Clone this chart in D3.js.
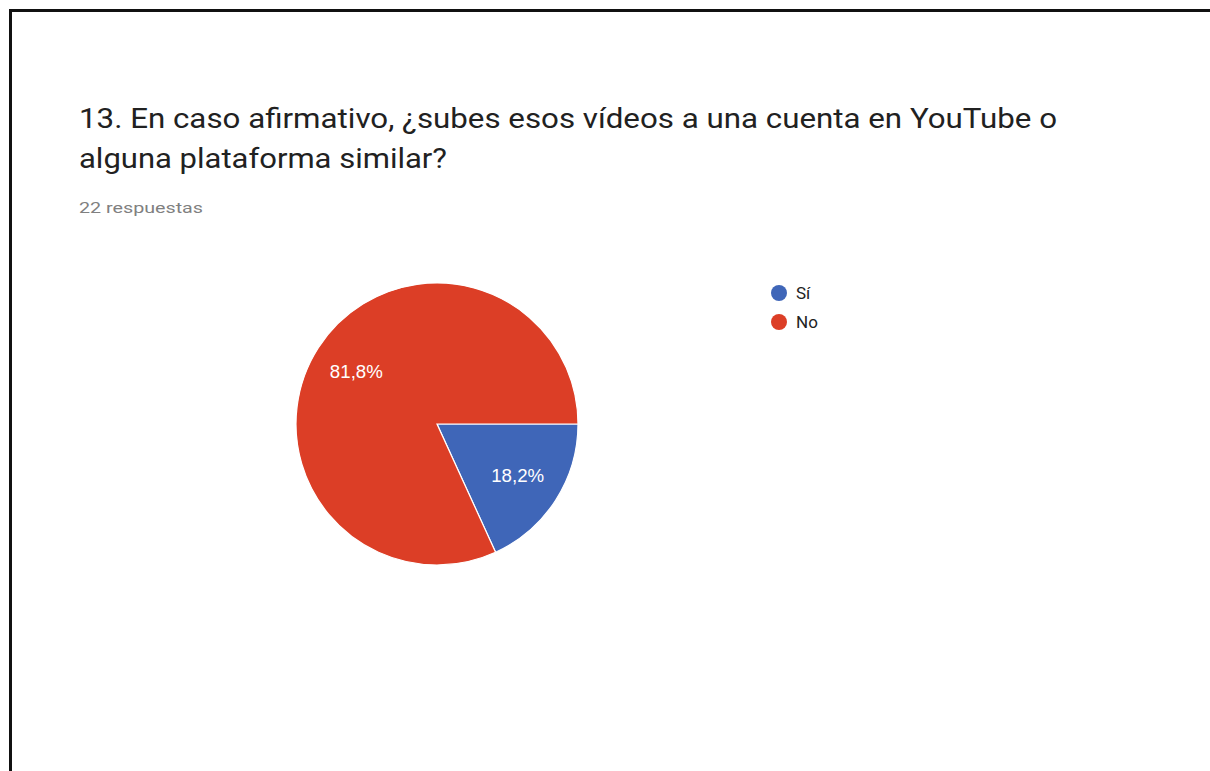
<!DOCTYPE html>
<html>
<head>
<meta charset="utf-8">
<script src="https://cdn.jsdelivr.net/npm/d3@7"></script>
<style>
  html, body { margin: 0; padding: 0; background: #fff; }
  svg { display: block; }
</style>
</head>
<body>
<svg id="chart" width="1210" height="771"></svg>
<script>
// Survey question 13: answers and their counts (22 responses)
const title = [
  "13. En caso afirmativo, ¿subes esos vídeos a una cuenta en YouTube o",
  "alguna plataforma similar?"
];
const subtitle = "22 respuestas";
const categories = ["Sí", "No"];
const counts = [4, 18];
const colors = ["#3f66b8", "#dc3e26"];

const svg = d3.select("#chart");

// Frame
svg.append("rect")
  .attr("x", 10.5).attr("y", 10.5)
  .attr("width", 1230).attr("height", 800)
  .attr("fill", "#fff")
  .attr("stroke", "#111").attr("stroke-width", 3);

// Title and response count (widened type)
const titleWidths = [978, 368];
svg.append("g").selectAll("text")
  .data(title)
  .join("text")
  .attr("x", 79)
  .attr("y", (d, i) => 127.5 + i * 40)
  .attr("font-family", "Roboto, Arial, sans-serif")
  .attr("font-size", 28)
  .attr("fill", "#212121")
  .attr("textLength", (d, i) => titleWidths[i])
  .attr("lengthAdjust", "spacingAndGlyphs")
  .text(d => d);

svg.append("text")
  .attr("x", 79).attr("y", 213)
  .attr("font-family", "Roboto, Arial, sans-serif")
  .attr("font-size", 15)
  .attr("fill", "#808080")
  .attr("textLength", 124)
  .attr("lengthAdjust", "spacingAndGlyphs")
  .text(subtitle);

// Pie
const cx = 437, cy = 424, radius = 141;
const total = d3.sum(counts);
const data = categories.map((c, i) => ({ name: c, value: counts[i], color: colors[i] }));

const pie = d3.pie()
  .value(d => d.value)
  .sort(null)
  .startAngle(Math.PI / 2)
  .endAngle(Math.PI / 2 + 2 * Math.PI);

const arc = d3.arc().innerRadius(0).outerRadius(radius);
const labelArc = d3.arc().innerRadius(radius * 0.68).outerRadius(radius * 0.68);

const g = svg.append("g").attr("transform", `translate(${cx},${cy})`);
const arcs = pie(data);

g.selectAll("path")
  .data(arcs)
  .join("path")
  .attr("d", arc)
  .attr("fill", d => d.data.color)
  .attr("stroke", "#fff")
  .attr("stroke-width", 1.2);

const fmt = v => (v / total * 100).toFixed(1).replace(".", ",") + "%";

g.selectAll("text")
  .data(arcs)
  .join("text")
  .attr("transform", d => `translate(${labelArc.centroid(d)})`)
  .attr("text-anchor", "middle")
  .attr("dy", "0.35em")
  .attr("font-family", "Arial, 'Liberation Sans', sans-serif")
  .attr("font-size", 18)
  .attr("fill", "#fff")
  .attr("textLength", 53)
  .attr("lengthAdjust", "spacingAndGlyphs")
  .text(d => fmt(d.data.value));

// Legend
const legend = svg.append("g").attr("transform", "translate(779,293)");
const item = legend.selectAll("g")
  .data(data)
  .join("g")
  .attr("transform", (d, i) => `translate(0,${i * 29})`);
item.append("circle").attr("r", 8).attr("fill", d => d.color);
item.append("text")
  .attr("x", 17).attr("dy", "0.36em")
  .attr("font-family", "Roboto, Arial, sans-serif")
  .attr("font-size", 17)
  .attr("fill", "#222")
  .text(d => d.name);
</script>
</body>
</html>
